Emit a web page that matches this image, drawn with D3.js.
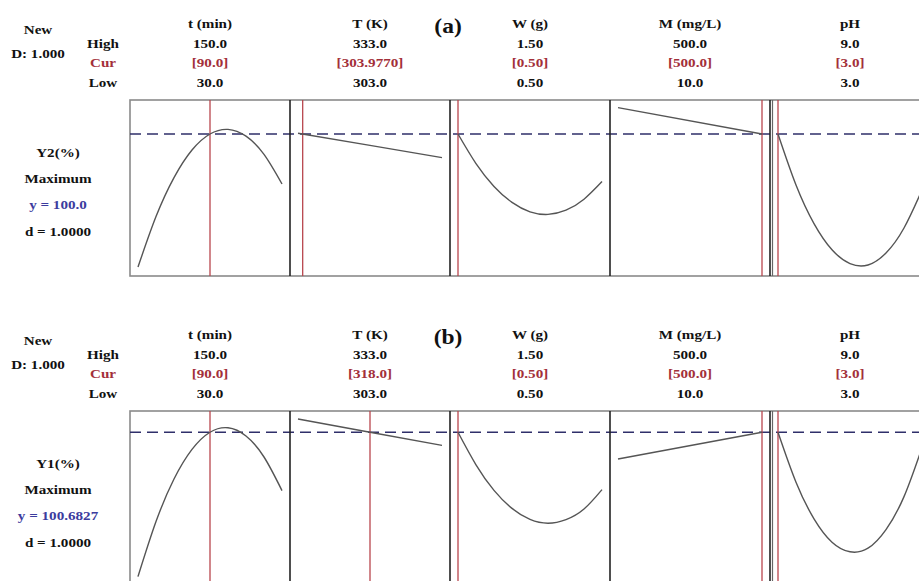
<!DOCTYPE html>
<html>
<head>
<meta charset="utf-8">
<script src="https://cdn.jsdelivr.net/npm/d3@7"></script>
<style>
  body { margin: 0; background: #fff; }
  svg { display: block; }
  text { font-family: "Liberation Serif", "Times New Roman", serif; font-weight: bold; }
</style>
</head>
<body>
<div id="chart"></div>
<script>
// factor names and their ranges
const factors = ["t (min)", "T (K)", "W (g)", "M (mg/L)", "pH"];
const lows = [30, 303, 0.5, 10, 3];
const highs = [150, 333, 1.5, 500, 9];
const lowLabels = ["30.0", "303.0", "0.50", "10.0", "3.0"];
const highLabels = ["150.0", "333.0", "1.50", "500.0", "9.0"];

// current settings, (a) and (b)
const curA = [90, 303.977, 0.5, 500, 3];
const curALabels = ["[90.0]", "[303.9770]", "[0.50]", "[500.0]", "[3.0]"];
const curB = [90, 318, 0.5, 500, 3];
const curBLabels = ["[90.0]", "[318.0]", "[0.50]", "[500.0]", "[3.0]"];

// x grids for the ramps
const tGrid = [30, 45, 60, 75, 90, 105, 120, 135, 150];
const TGrid = [303, 318, 333];
const WGrid = [0.5, 0.625, 0.75, 0.875, 1.0, 1.125, 1.25, 1.375, 1.5];
const MGrid = [10, 500];
const pHGrid = [3, 3.75, 4.5, 5.25, 6, 6.75, 7.5, 8.25, 9];

// (a) Y2(%) response along each factor
const y2_t = [33.5, 58.7, 78.2, 92.0, 100, 102.3, 98.9, 89.8, 75];
const y2_T = [100.4, 94.3, 88.2];
const y2_W = [100, 85.2, 73.8, 65.8, 61.1, 59.8, 61.9, 67.4, 76.2];
const y2_M = [113.2, 100];
const y2_pH = [100, 74.5, 55.2, 42.1, 35.2, 34.5, 40.5, 53, 72];

// (b) Y1(%) response along each factor
const y1_t = [28.5, 56.0, 77.3, 92.1, 100.68, 102.9, 98.8, 88.3, 71.5];
const y1_T = [107.3, 100.68, 94.1];
const y1_W = [100.68, 84.4, 71.6, 62.6, 57.1, 55.2, 57.0, 62.3, 72];
const y1_M = [87.3, 100.68];
const y1_pH = [100.68, 75.7, 57.4, 45.7, 40.9, 42.7, 52, 68.5, 93];

const panels = [
  { tag: "(a)", resp: "Y2(%)", yText: "y = 100.0", target: 100, yDomain: [29, 117], cur: curA, curLabels: curALabels,
    series: [y2_t, y2_T, y2_W, y2_M, y2_pH] },
  { tag: "(b)", resp: "Y1(%)", yText: "y = 100.6827", target: 100.6827, yDomain: [23.3, 111.3], cur: curB, curLabels: curBLabels,
    series: [y1_t, y1_T, y1_W, y1_M, y1_pH] }
];
const grids = [tGrid, TGrid, WGrid, MGrid, pHGrid];

const W = 919, H = 581;
const left0 = 130, cellW = 160, pad = 8, boxH = 176, offY = 311;
const red = "#a3303a", blue = "#3c3c9e";
const fs = 13.5;

const svg = d3.select("#chart").append("svg").attr("width", W).attr("height", H);
svg.append("rect").attr("width", W).attr("height", H).attr("fill", "#fff");

const txt = (g, x, y, s, size, color) =>
  g.append("text")
    .attr("transform", "translate(" + x + "," + y + ") scale(1.12,1)")
    .attr("text-anchor", "middle")
    .attr("font-size", size)
    .attr("fill", color || "#111")
    .text(s);

panels.forEach((p, k) => {
  const g = svg.append("g").attr("transform", "translate(0," + (k * offY) + ")");
  const top = 100, bottom = top + boxH;

  // header block
  txt(g, 38, 33.5, "New", fs);
  txt(g, 38, 57.5, "D: 1.000", fs);
  txt(g, 103, 47.5, "High", fs);
  txt(g, 103, 67, "Cur", fs, red);
  txt(g, 103, 86.5, "Low", fs);
  txt(g, 448, 32.5, p.tag, 21);

  factors.forEach((f, i) => {
    const cx = left0 + i * cellW + cellW / 2;
    txt(g, cx, 28, f, fs);
    txt(g, cx, 47.5, highLabels[i], fs);
    txt(g, cx, 67, p.curLabels[i], fs, red);
    txt(g, cx, 86.5, lowLabels[i], fs);
  });

  // response labels on the left
  txt(g, 58, 157, p.resp, fs);
  txt(g, 58, 183, "Maximum", fs);
  txt(g, 58, 209, p.yText, fs, blue);
  txt(g, 58, 236, "d = 1.0000", fs);

  const y = d3.scaleLinear().domain(p.yDomain).range([bottom, top]);

  // outer frame
  g.append("rect")
    .attr("x", left0).attr("y", top)
    .attr("width", cellW * 5 + 20).attr("height", boxH)
    .attr("fill", "none").attr("stroke", "#8a8a8a").attr("stroke-width", 1.6);

  // target line
  g.append("line")
    .attr("x1", left0).attr("x2", W)
    .attr("y1", y(p.target)).attr("y2", y(p.target))
    .attr("stroke", "#2f2f6a").attr("stroke-width", 1.5)
    .attr("stroke-dasharray", "11,6");

  factors.forEach((f, i) => {
    const x0 = left0 + i * cellW;
    const x = d3.scaleLinear().domain([lows[i], highs[i]]).range([x0 + pad, x0 + cellW - pad]);

    // divider on the right side of the cell
    if (i < factors.length - 1) {
      g.append("line")
        .attr("x1", x0 + cellW).attr("x2", x0 + cellW)
        .attr("y1", top).attr("y2", bottom)
        .attr("stroke", "#222").attr("stroke-width", 1.6);
    }
    if (i === 3) {
      g.append("line")
        .attr("x1", x0 + cellW + 2.5).attr("x2", x0 + cellW + 2.5)
        .attr("y1", top).attr("y2", bottom)
        .attr("stroke", "#666").attr("stroke-width", 1.2);
    }

    // current setting
    g.append("line")
      .attr("x1", x(p.cur[i])).attr("x2", x(p.cur[i]))
      .attr("y1", top).attr("y2", bottom)
      .attr("stroke", "#b8454d").attr("stroke-width", 1.3);

    // ramp
    const pts = grids[i].map((v, j) => [v, p.series[i][j]]);
    const line = d3.line()
      .x(d => x(d[0]))
      .y(d => y(d[1]))
      .curve(pts.length > 3 ? d3.curveNatural : d3.curveLinear);
    g.append("path")
      .datum(pts)
      .attr("d", line)
      .attr("fill", "none")
      .attr("stroke", "#555")
      .attr("stroke-width", 1.4);
  });
});
</script>
</body>
</html>
